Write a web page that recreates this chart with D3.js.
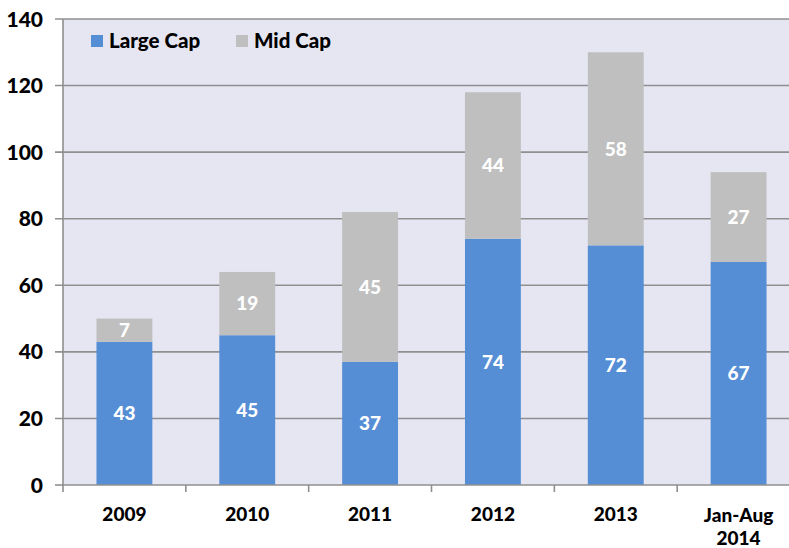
<!DOCTYPE html>
<html><head><meta charset="utf-8">
<script src="https://cdn.jsdelivr.net/npm/d3@7"></script>
<style>body{margin:0;background:#fff}svg{display:block}text{font-family:Lato,"Open Sans",sans-serif;font-weight:900}</style>
</head><body><svg id="c" width="789" height="548"></svg>
<script>
const categories = ["2009","2010","2011","2012","2013","Jan-Aug\n2014"];
const largeCap = [43,45,37,74,72,67];
const midCap = [7,19,45,44,58,27];
const yTicks = [0,20,40,60,80,100,120,140];
const seriesNames = ["Large Cap","Mid Cap"];
const colors = ["#558ED5","#BFBFBF"];

const svg = d3.select("#c");
const pL = 63, pR = 800, pT = 19, pB = 485;
const x = d3.scaleBand().domain(categories).range([pL,pR]).paddingInner(0.545).paddingOuter(0.2725);
const y = d3.scaleLinear().domain([0,140]).range([pB,pT]);

svg.append("rect").attr("x",pL).attr("y",pT).attr("width",pR-pL).attr("height",pB-pT).attr("fill","#E6E6F3");

// gridlines
svg.append("g").selectAll("line").data(yTicks.filter(d=>d>0)).join("line")
  .attr("x1",pL-8).attr("x2",789).attr("y1",d=>y(d)).attr("y2",d=>y(d))
  .attr("stroke","#8f8f8f").attr("stroke-width",1.6);

const data = categories.map((c,i)=>({cat:c, large:largeCap[i], mid:midCap[i]}));
const stack = d3.stack().keys(["large","mid"])(data);

const g = svg.append("g");
stack.forEach((s,si)=>{
  g.selectAll(null).data(s).join("rect")
    .attr("x",d=>x(d.data.cat)).attr("width",x.bandwidth())
    .attr("y",d=>y(d[1])).attr("height",d=>y(d[0])-y(d[1]))
    .attr("fill",colors[si]);
  g.selectAll(null).data(s).join("text")
    .attr("x",d=>x(d.data.cat)+x.bandwidth()/2)
    .attr("y",d=>(y(d[0])+y(d[1]))/2)
    .attr("dy","0.36em").attr("text-anchor","middle")
    .attr("fill","#fff").attr("font-size",19)
    .text(d=>d[1]-d[0]);
});

// y axis
svg.append("line").attr("x1",pL).attr("x2",pL).attr("y1",pT).attr("y2",pB+1).attr("stroke","#8f8f8f").attr("stroke-width",1.6);
svg.append("line").attr("x1",pL-8).attr("x2",pL).attr("y1",y(0)).attr("y2",y(0)).attr("stroke","#8f8f8f").attr("stroke-width",1.6);
svg.append("g").selectAll("text").data(yTicks).join("text")
  .attr("x",43).attr("y",d=>y(d)).attr("dy","0.36em").attr("text-anchor","end")
  .attr("font-size",21).attr("fill","#000").text(d=>d);

// x axis
svg.append("line").attr("x1",pL).attr("x2",789).attr("y1",pB).attr("y2",pB).attr("stroke","#8f8f8f").attr("stroke-width",1.6);
const step = x.step();
svg.append("g").selectAll("line").data(d3.range(categories.length)).join("line")
  .attr("x1",i=>pL+i*step).attr("x2",i=>pL+i*step).attr("y1",pB).attr("y2",pB+7)
  .attr("stroke","#8f8f8f").attr("stroke-width",1.6);
const xl = svg.append("g").selectAll("text").data(categories).join("text")
  .attr("text-anchor","middle").attr("font-size",19).attr("fill","#000")
  .attr("transform",d=>`translate(${x(d)+x.bandwidth()/2},${d.includes("\n")?522:521})`);
xl.each(function(d){
  const parts = d.split("\n");
  d3.select(this).selectAll("tspan").data(parts).join("tspan")
    .attr("x",0).attr("dy",(p,i)=>i===0?0:"1.2em").text(p=>p);
});

// legend
const lg = svg.append("g");
const lx = [91,236];
seriesNames.forEach((n,i)=>{
  lg.append("rect").attr("x",lx[i]).attr("y",35).attr("width",12).attr("height",12).attr("fill",colors[i]);
  lg.append("text").attr("x",lx[i]+18).attr("y",41).attr("dy","0.36em").attr("font-size",20.5).attr("fill","#000").text(n);
});
</script></body></html>
